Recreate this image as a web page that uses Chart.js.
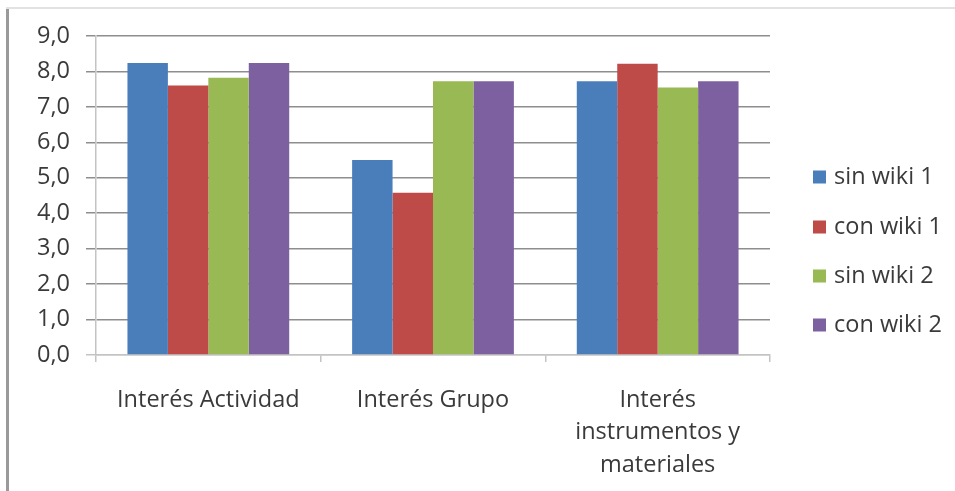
<!DOCTYPE html>
<html>
<head>
<meta charset="utf-8">
<script src="https://cdn.jsdelivr.net/npm/chart.js@4/dist/chart.umd.min.js"></script>
<style>
  html, body { margin: 0; padding: 0; background: #ffffff; }
  #wrap { position: relative; width: 955px; height: 491px; overflow: hidden; background: #fff; }
  #c { position: absolute; left: 0; top: 0; }
  #bl { position: absolute; left: 6px; top: 7px; width: 3px; height: 484px; background: #9a9a9a; }
  #bt { position: absolute; left: 6px; top: 7px; width: 949px; height: 2px; background: #e2e2e2; }
</style>
</head>
<body>
<div id="wrap">
  <canvas id="c" width="955" height="491"></canvas>
  <div id="bl"></div>
  <div id="bt"></div>
</div>
<script>
const categories = ["Interés Actividad", "Interés Grupo", ["Interés", "instrumentos y", "materiales"]];
const seriesNames = ["sin wiki 1", "con wiki 1", "sin wiki 2", "con wiki 2"];
const sinWiki1 = [8.24, 5.50, 7.72];
const conWiki1 = [7.60, 4.58, 8.22];
const sinWiki2 = [7.82, 7.72, 7.55];
const conWiki2 = [8.24, 7.72, 7.72];
const yTickLabels = ["0,0", "1,0", "2,0", "3,0", "4,0", "5,0", "6,0", "7,0", "8,0", "9,0"];
const colors = ["#4A7EBB", "#BE4B48", "#98B954", "#7D60A0"];

const FONT = "'Open Sans'";
const FS = 23.5;
const TXT = "#3a3a3a";

const legendPlugin = {
  id: "customLegend",
  afterDraw(chart) {
    const ctx = chart.ctx;
    ctx.save();
    ctx.font = FS + "px " + FONT;
    ctx.textBaseline = "middle";
    ctx.textAlign = "left";
    const ys = [177, 227, 276, 325];
    chart.data.datasets.forEach((ds, i) => {
      const y = ys[i];
      ctx.fillStyle = ds.backgroundColor;
      ctx.fillRect(813, y - 6.5, 13, 13);
      ctx.fillStyle = TXT;
      ctx.fillText(ds.label, 834, y);
    });
    ctx.restore();
  }
};

const seriesData = [sinWiki1, conWiki1, sinWiki2, conWiki2];

new Chart(document.getElementById("c"), {
  type: "bar",
  data: {
    labels: categories,
    datasets: seriesData.map((d, i) => ({
      label: seriesNames[i],
      data: d,
      backgroundColor: colors[i],
      borderWidth: 0,
      categoryPercentage: 0.72,
      barPercentage: 1.0
    }))
  },
  options: {
    responsive: false,
    animation: false,
    devicePixelRatio: 1,
    layout: { padding: { left: 0, right: 185, top: 36, bottom: 0 } },
    plugins: { legend: { display: false }, tooltip: { enabled: false } },
    scales: {
      x: {
        grid: {
          offset: true,
          drawOnChartArea: false,
          drawTicks: true,
          tickLength: 7,
          color: "#c4c4c4",
          lineWidth: 1.5
        },
        border: { display: true, color: "#c4c4c4", width: 1.5 },
        ticks: {
          color: TXT,
          font: { family: FONT, size: FS, lineHeight: 1.38 },
          padding: 22,
          maxRotation: 0,
          autoSkip: false
        },
        afterFit(scale) { scale.height = 136; }
      },
      y: {
        min: 0,
        max: 9,
        ticks: {
          stepSize: 1,
          color: TXT,
          font: { family: FONT, size: FS },
          padding: 16,
          callback: (v, i) => yTickLabels[i]
        },
        grid: {
          color: (c) => (c.tick && c.tick.value === 0 ? "#c4c4c4" : "#8e8e8e"),
          lineWidth: 1.5,
          tickLength: 10,
          drawTicks: true
        },
        border: { display: true, color: "#c4c4c4", width: 1.5 },
        afterFit(scale) { scale.width = 96; }
      }
    }
  },
  plugins: [legendPlugin]
});
</script>
</body>
</html>
